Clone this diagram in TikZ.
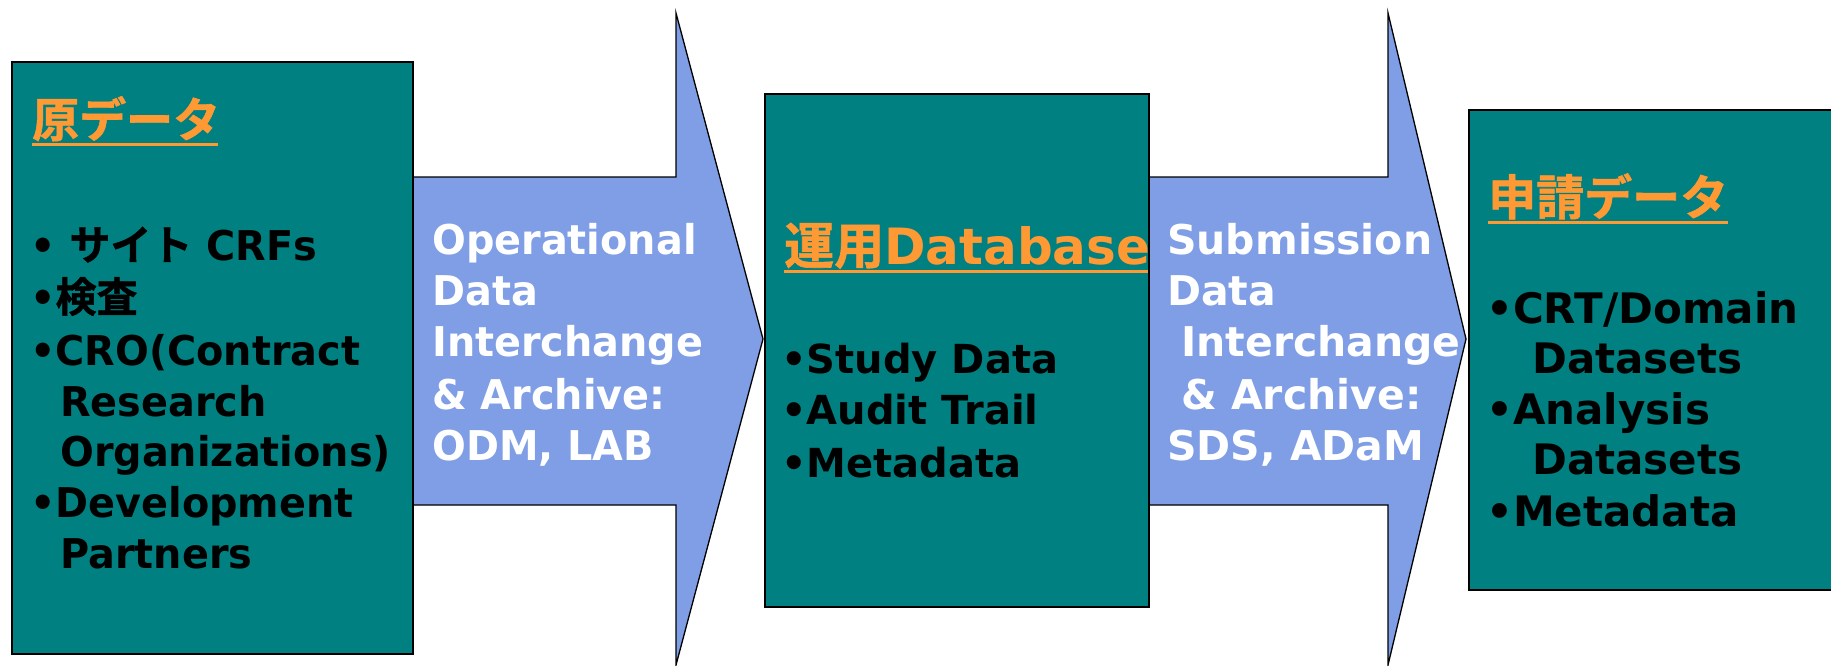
\documentclass[tikz,border=0pt]{standalone}
\usepackage{fontspec}
\setmainfont{DejaVu Sans}
\newfontfamily\narrow{DejaVu Sans}[FakeStretch=0.97]
\newfontfamily\cjk{Noto Sans CJK JP}[BoldFont={Noto Sans CJK JP Bold}, BoldFeatures={FakeBold=1.2}]
\definecolor{tealbox}{RGB}{0,128,128}
\definecolor{arrowblue}{RGB}{127,158,230}
\definecolor{titleorange}{RGB}{255,153,51}
\tikzset{
  box/.style={draw=black, line width=1.5pt, fill=tealbox, rectangle, inner sep=0pt, anchor=north west},
  blockarrow/.style={draw=black, line width=1.3pt, fill=arrowblue, line join=miter},
  ttl/.style={anchor=base west, inner sep=0pt, text=titleorange, font=\bfseries},
  uline/.style={draw=titleorange, line width=3pt},
  item/.style={anchor=base west, inner sep=0pt, text=black, font=\narrow\bfseries\fontsize{41}{51}\selectfont},
  wtxt/.style={anchor=base west, inner sep=0pt, text=white, font=\bfseries\fontsize{41}{51}\selectfont},
}
\begin{document}
\begin{tikzpicture}[x=1pt, y=-1pt]
\clip (0,0) rectangle (1831,665);
\fill[white] (0,0) rectangle (1831,665);

% block arrows between the stages
\draw[blockarrow] (400,177) -- (676,177) -- (676,13) -- (763,339) -- (676,665)
  -- (676,505) -- (400,505) -- cycle;
\draw[blockarrow] (1140,177) -- (1388,177) -- (1388,13) -- (1466,339) -- (1388,665)
  -- (1388,505) -- (1140,505) -- cycle;

% stage boxes
\node[box, minimum width=401pt, minimum height=592pt] (src) at (11,61) {};
\node[box, minimum width=384pt, minimum height=513pt] (ops) at (764,93) {};
\node[box, minimum width=400pt, minimum height=480pt] (sub) at (1468,109) {};

% stage 1: source data
\node[ttl, font=\bfseries\cjk\fontsize{47}{50}\selectfont] (t1) at (32,137) {原データ};
\draw[uline] (32,144) -- (218,144);
\node[item] (s1a) at (30,260) {• {\cjk\fontsize{41}{51}\selectfont サイト} CRFs};
\node[item] (s1b) at (30,312) {•{\cjk\fontsize{41}{51}\selectfont 検査}};
\node[item] (s1c) at (30,365) {•CRO(Contract};
\node[item] (s1d) at (60,416) {Research};
\node[item] (s1e) at (60,466) {Organizations)};
\node[item] (s1f) at (30,517) {•Development};
\node[item] (s1g) at (60,568) {Partners};

% arrow 1 label
\node[wtxt, font=\narrow\bfseries\fontsize{41}{51}\selectfont] (a1a) at (432,254) {Operational};
\node[wtxt, font=\narrow\bfseries\fontsize{41}{51}\selectfont] (a1b) at (432,305) {Data};
\node[wtxt, font=\narrow\bfseries\fontsize{41}{51}\selectfont] (a1c) at (432,356) {Interchange};
\node[wtxt, font=\narrow\bfseries\fontsize{41}{51}\selectfont] (a1d) at (432,409) {\& Archive:};
\node[wtxt, font=\narrow\bfseries\fontsize{41}{51}\selectfont] (a1e) at (432,460) {ODM, LAB};

% stage 2: operational database
\node[ttl, font=\bfseries\fontsize{50}{54}\selectfont] (t2) at (784,264) {{\cjk 運用}Database};
\draw[uline] (784,271) -- (1148,271);
\node[item, font=\bfseries\fontsize{40}{50}\selectfont] (s2a) at (781,373) {•Study Data};
\node[item, font=\bfseries\fontsize{40}{50}\selectfont] (s2b) at (781,424) {•Audit Trail};
\node[item, font=\bfseries\fontsize{40}{50}\selectfont] (s2c) at (781,477) {•Metadata};

% arrow 2 label
\node[wtxt] (a2a) at (1167,254) {Submission};
\node[wtxt] (a2b) at (1167,305) {Data};
\node[wtxt] (a2c) at (1181,356) {Interchange};
\node[wtxt] (a2d) at (1181,409) {\& Archive:};
\node[wtxt] (a2e) at (1167,460) {SDS, ADaM};

% stage 3: submission data
\node[ttl, font=\bfseries\cjk\fontsize{48}{50}\selectfont] (t3) at (1488,215) {申請データ};
\draw[uline] (1488,222) -- (1728,222);
\node[item, font=\bfseries\fontsize{42}{50}\selectfont] (s3a) at (1486,323) {•CRT/Domain};
\node[item, font=\bfseries\fontsize{42}{50}\selectfont] (s3b) at (1532,373) {Datasets};
\node[item, font=\bfseries\fontsize{42}{50}\selectfont] (s3c) at (1486,424) {•Analysis};
\node[item, font=\bfseries\fontsize{42}{50}\selectfont] (s3d) at (1532,474) {Datasets};
\node[item, font=\bfseries\fontsize{42}{50}\selectfont] (s3e) at (1486,526) {•Metadata};
\end{tikzpicture}
\end{document}
